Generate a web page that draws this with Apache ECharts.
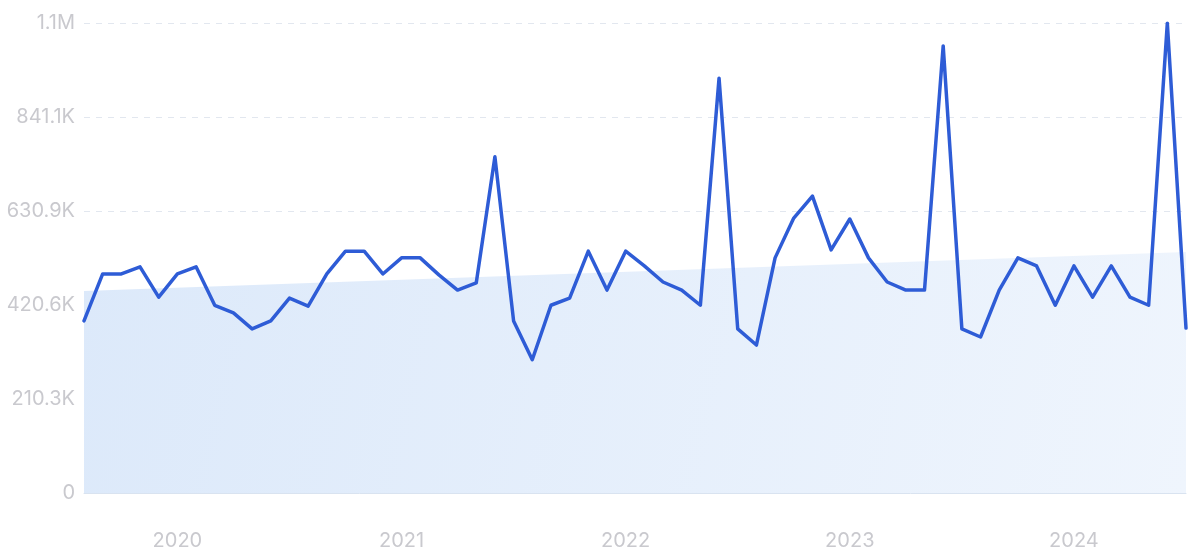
<!DOCTYPE html>
<html>
<head>
<meta charset="utf-8">
<script src="https://cdn.jsdelivr.net/npm/echarts@6/dist/echarts.min.js"></script>
<style>html,body{margin:0;padding:0;background:#fff;}#c{width:1200px;height:557px;}</style>
</head>
<body>
<div id="c"></div>
<script>
// Months Aug 2019 .. Jul 2024
const months = [
 '2019-08','2019-09','2019-10','2019-11','2019-12',
 '2020-01','2020-02','2020-03','2020-04','2020-05','2020-06','2020-07','2020-08','2020-09','2020-10','2020-11','2020-12',
 '2021-01','2021-02','2021-03','2021-04','2021-05','2021-06','2021-07','2021-08','2021-09','2021-10','2021-11','2021-12',
 '2022-01','2022-02','2022-03','2022-04','2022-05','2022-06','2022-07','2022-08','2022-09','2022-10','2022-11','2022-12',
 '2023-01','2023-02','2023-03','2023-04','2023-05','2023-06','2023-07','2023-08','2023-09','2023-10','2023-11','2023-12',
 '2024-01','2024-02','2024-03','2024-04','2024-05','2024-06','2024-07'
];
const values = [
 385000,490000,490000,506000,438000,
 490000,506000,420000,403000,367000,385000,436000,418000,490000,541000,541000,490000,
 526000,526000,488000,454000,470000,752000,385000,298000,420000,436000,541000,454000,
 541000,508000,472000,454000,420000,928000,367000,331000,526000,615000,664000,544000,
 613000,526000,472000,454000,454000,1000000,367000,349000,454000,526000,508000,420000,
 508000,438000,508000,438000,420000,1051000,369000
];
// trend line endpoints (first and last month)
const trendStart = 452000;
const trendEnd = 539000;
const yTickLabels = ['0','210.3K','420.6K','630.9K','841.1K','1.1M'];
const yInterval = 210285;

const chart = echarts.init(document.getElementById('c'));
chart.setOption({
  animation: false,
  grid: {left: 84, right: 14, top: 23, bottom: 64, containLabel: false},
  xAxis: {
    type: 'category',
    data: months,
    boundaryGap: false,
    axisLine: {show: true, lineStyle: {color: '#d9e3f0', width: 1}},
    axisTick: {show: false},
    splitLine: {show: false},
    axisLabel: {
      interval: (i, v) => v.endsWith('-01'),
      formatter: v => v.slice(0, 4),
      color: '#c9c9ce',
      fontSize: 20,
      fontFamily: 'Inter',
      margin: 38
    }
  },
  yAxis: {
    type: 'value',
    min: 0,
    max: yInterval * 5,
    interval: yInterval,
    axisLine: {show: false},
    axisTick: {show: false},
    splitLine: {show: true, lineStyle: {color: '#e2e7ef', type: [6, 6], width: 1}},
    axisLabel: {
      formatter: v => yTickLabels[Math.round(v / yInterval)],
      color: '#c9c9ce',
      fontSize: 20,
      fontFamily: 'Inter',
      margin: 9
    }
  },
  series: [
    {
      type: 'line',
      data: [[0, trendStart], [months.length - 1, trendEnd]],
      symbol: 'none',
      lineStyle: {width: 0, opacity: 0},
      areaStyle: {
        opacity: 1,
        color: new echarts.graphic.LinearGradient(0, 0, 1, 1, [
          {offset: 0, color: '#dce9fa'},
          {offset: 1, color: '#eff5fd'}
        ])
      },
      silent: true,
      z: 1
    },
    {
      type: 'line',
      data: values,
      symbol: 'none',
      lineStyle: {color: '#2e5cd6', width: 3.5, join: 'round', cap: 'round'},
      z: 3
    }
  ]
});
</script>
</body>
</html>
